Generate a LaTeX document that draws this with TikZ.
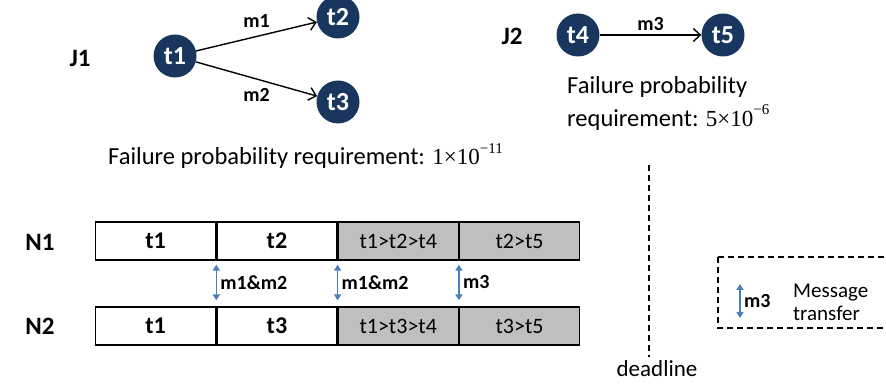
\documentclass[tikz,border=0pt]{standalone}
\usepackage{fontspec}
\setmainfont{Carlito}
\newfontfamily\timesfont{Liberation Serif}
\usetikzlibrary{arrows.meta,calc}
\definecolor{navy}{RGB}{24,54,94}
\definecolor{msgblue}{RGB}{74,126,187}
\definecolor{slotgray}{RGB}{191,191,191}
\newcommand{\sci}[2]{{\timesfont\fontsize{23}{23}\selectfont #1×10\raisebox{0.5em}{\fontsize{15}{15}\selectfont −#2}}}
\tikzset{
  task/.style={circle, fill=navy, minimum size=43pt, inner sep=0pt, text=white,
    font=\fontsize{26}{26}\selectfont\bfseries},
  msg/.style={-{Straight Barb[length=7pt,width=13pt,line width=1.4pt]}, line width=1.4pt},
  msglabel/.style={font=\fontsize{20}{20}\selectfont\bfseries},
  joblabel/.style={font=\fontsize{25}{25}\selectfont\bfseries},
  slot/.style={draw, line width=1.3pt, minimum width=120pt, minimum height=38pt,
    inner sep=0pt, anchor=west},
  own/.style={slot, fill=white, font=\fontsize{24}{24}\selectfont\bfseries},
  copy/.style={slot, fill=slotgray, font=\fontsize{22}{22}\selectfont},
  xfer/.style={{Triangle[length=6pt,width=7pt]}-{Triangle[length=6pt,width=7pt]},
    draw=msgblue, line width=1.6pt},
  xferlabel/.style={font=\fontsize{20}{20}\selectfont\bfseries, anchor=west},
  plain/.style={font=\fontsize{24.5}{33}\selectfont},
  guide/.style={dash pattern=on 6pt off 4pt, line width=1.8pt}
}
\begin{document}
\begin{tikzpicture}[x=1pt,y=-1pt]
\useasboundingbox (0,0) rectangle (886,387);
\begin{scope}
\clip (0,0) rectangle (886,387);

% Job J1
\node[joblabel] (j1) at (80,58) {J1};
\node[task] (t1) at (175,56) {t1};
\node[task] (t2) at (338,17) {t2};
\node[task] (t3) at (338,102) {t3};
\draw[msg] (t1) -- (t2) node[msglabel, pos=0.5, above=5pt] {m1};
\draw[msg] (t1) -- (t3) node[msglabel, pos=0.5, below=5pt] {m2};
\node[plain, anchor=west, inner sep=0pt] (req1) at (108,156) {Failure probability requirement: \sci{1}{11}};

% Job J2
\node[joblabel] (j2) at (512,36) {J2};
\node[task] (t4) at (578,35) {t4};
\node[task] (t5) at (723,35) {t5};
\draw[msg] (t4) -- (t5) node[msglabel, midway, above=0pt] {m3};
\node[plain, anchor=north west, align=left, inner sep=0pt] (req2) at (567,76)
  {Failure probability\\requirement: \sci{5}{6}};

% Schedules on the two nodes
\node[joblabel] (n1) at (40,242) {N1};
\node[joblabel] (n2) at (40,326) {N2};
\node[own]  (a1) at (95,241)  {t1};
\node[own]  (b1) at (a1.east) {t2};
\node[copy] (c1) at (b1.east) {t1>t2>t4};
\node[copy] (d1) at (c1.east) {t2>t5};
\node[own]  (a2) at (95,326)  {t1};
\node[own]  (b2) at (a2.east) {t3};
\node[copy] (c2) at (b2.east) {t1>t3>t4};
\node[copy] (d2) at (c2.east) {t3>t5};

% Message transfers between the nodes
\draw[xfer] ($(a1.south east)+(0,4)$) -- ($(a2.north east)+(0,-6)$)
  node[xferlabel, midway, right=0pt] {m1\&m2};
\draw[xfer] ($(b1.south east)+(0,4)$) -- ($(b2.north east)+(0,-6)$)
  node[xferlabel, midway, right=0pt] {m1\&m2};
\draw[xfer] ($(c1.south east)+(0,4)$) -- ($(c2.north east)+(0,-6)$)
  node[xferlabel, midway, right=0pt] {m3};

% Deadline
\coordinate (dtop) at (649,165);
\node[font=\fontsize{23}{23}\selectfont] (dl) at (657,369) {deadline};
\draw[guide] (dtop) -- (dtop |- 0,357);

% Legend
\draw[guide] (718,257) rectangle (900,328);
\coordinate (ltop) at (740,284);
\coordinate (lbot) at (740,318);
\draw[xfer] (ltop) -- (lbot) node[xferlabel, midway, right=0pt] {m3};
\node[align=left, anchor=west, inner sep=0pt, font=\fontsize{21}{23}\selectfont] (lg) at (793,302)
  {Message\\transfer};
\end{scope}
\end{tikzpicture}
\end{document}
